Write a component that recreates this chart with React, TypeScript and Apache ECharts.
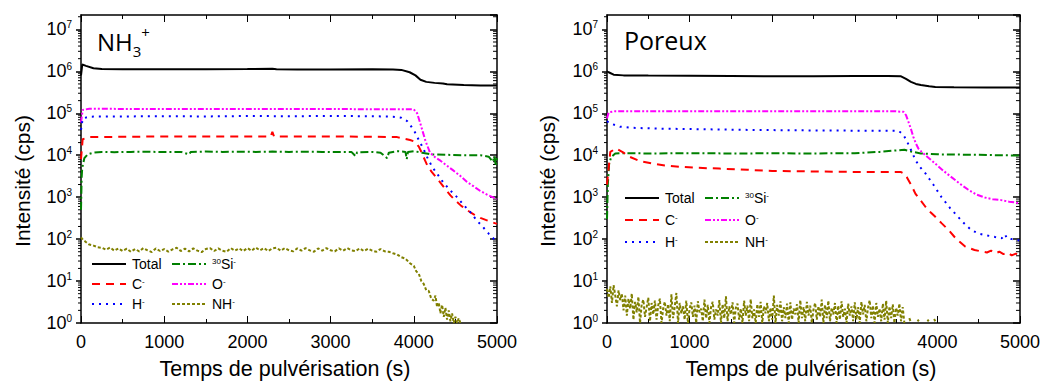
import React, { useEffect, useRef } from "react";
import * as echarts from "echarts";

// ---------- data (time in s, intensity in cps) ----------
const logMinorFactors = [2, 3, 4, 5, 6, 7, 8, 9];
const logDecades = [0, 1, 2, 3, 4, 5, 6, 7];

const leftTotal = [[0, 8e5], [15, 1.45e6], [60, 1.35e6], [150, 1.18e6], [250, 1.13e6], [500, 1.12e6], [1000, 1.12e6], [1500, 1.12e6], [2000, 1.13e6], [2300, 1.15e6], [2350, 1.12e6], [2600, 1.11e6], [3000, 1.11e6], [3500, 1.12e6], [3750, 1.11e6], [3850, 1.08e6], [3950, 9.5e5], [4020, 8.0e5], [4080, 6.3e5], [4150, 5.6e5], [4250, 5.3e5], [4350, 5.1e5], [4400, 4.9e5], [4600, 4.7e5], [4800, 4.6e5], [5000, 4.6e5]];
const leftO = [[0, 6e4], [20, 1.2e5], [100, 1.28e5], [500, 1.27e5], [1000, 1.26e5], [1500, 1.27e5], [2000, 1.26e5], [2500, 1.27e5], [3000, 1.26e5], [3500, 1.25e5], [3800, 1.25e5], [4000, 1.24e5], [4040, 1.0e5], [4075, 6e4], [4110, 3.5e4], [4140, 2.2e4], [4195, 1.15e4], [4260, 8.8e3], [4320, 7.4e3], [4400, 5.6e3], [4470, 4.4e3], [4560, 3.2e3], [4640, 2.3e3], [4720, 1.8e3], [4800, 1.4e3], [4900, 1.1e3], [5000, 9e2]];
const leftH = [[0, 4e4], [20, 7.5e4], [100, 8.3e4], [500, 8.4e4], [1000, 8.5e4], [1500, 8.4e4], [2000, 8.6e4], [2500, 8.5e4], [3000, 8.6e4], [3500, 8.5e4], [3750, 8.3e4], [3850, 7.8e4], [3920, 6.5e4], [3970, 4.8e4], [4015, 3.5e4], [4060, 2.3e4], [4110, 1.5e4], [4160, 9e3], [4220, 5.3e3], [4290, 3.4e3], [4350, 2.3e3], [4430, 1.5e3], [4520, 1.0e3], [4600, 6.5e2], [4675, 4.5e2], [4750, 2.9e2], [4830, 1.95e2], [4900, 1.35e2], [4975, 95], [5000, 85]];
const leftC = [[0, 8e3], [20, 2.4e4], [100, 2.7e4], [500, 2.75e4], [1000, 2.8e4], [1500, 2.8e4], [2000, 2.8e4], [2280, 2.8e4], [2300, 3.6e4], [2320, 2.8e4], [2600, 2.8e4], [3000, 2.8e4], [3500, 2.75e4], [3800, 2.7e4], [3870, 2.5e4], [3955, 2.3e4], [4015, 2.1e4], [4060, 1.6e4], [4100, 1.1e4], [4135, 7.5e3], [4170, 5.3e3], [4220, 3.9e3], [4280, 2.8e3], [4375, 1.6e3], [4440, 1.1e3], [4495, 8.5e2], [4570, 6.2e2], [4640, 4.9e2], [4720, 3.9e2], [4800, 3.2e2], [4900, 2.7e2], [5000, 2.3e2]];
const leftSi = [[0, 5e2], [8, 3e3], [15, 5e3], [40, 8.5e3], [80, 1.05e4], [150, 1.15e4], [250, 1.2e4], [400, 1.18e4], [600, 1.2e4], [800, 1.21e4], [1000, 1.19e4], [1200, 1.2e4], [1300, 1.05e4], [1320, 1.2e4], [1500, 1.22e4], [1700, 1.2e4], [1900, 1.21e4], [2100, 1.2e4], [2300, 1.22e4], [2500, 1.2e4], [2700, 1.21e4], [2900, 1.2e4], [3100, 1.19e4], [3250, 1.2e4], [3300, 9.5e3], [3320, 1.18e4], [3500, 1.2e4], [3600, 1.15e4], [3680, 8.5e3], [3700, 1.15e4], [3800, 1.25e4], [3900, 1.2e4], [3915, 8e3], [3930, 1.2e4], [4000, 1.25e4], [4100, 1.15e4], [4200, 1.05e4], [4400, 1.02e4], [4600, 1.0e4], [4800, 1.0e4], [4900, 9.2e3], [4950, 7e3], [4970, 9.5e3], [4985, 5.5e3], [5000, 8.5e3]];
const leftNH = [[0, 110], [25, 95], [50, 88], [75, 80], [100, 74], [150, 70], [200, 64], [250, 62], [300, 56], [350, 63], [400, 53], [450, 60], [500, 52], [550, 59], [600, 50], [650, 58], [700, 51], [750, 61], [800, 54], [850, 49], [900, 60], [950, 52], [1000, 58], [1050, 50], [1100, 57], [1150, 62], [1200, 52], [1250, 59], [1300, 51], [1350, 60], [1400, 53], [1450, 49], [1500, 58], [1550, 61], [1600, 52], [1650, 60], [1700, 53], [1750, 50], [1800, 61], [1850, 53], [1900, 60], [1950, 52], [2000, 61], [2050, 53], [2100, 63], [2150, 54], [2200, 61], [2250, 52], [2300, 60], [2350, 62], [2400, 53], [2450, 61], [2500, 54], [2550, 51], [2600, 60], [2650, 53], [2700, 61], [2750, 54], [2800, 50], [2850, 60], [2900, 53], [2950, 61], [3000, 54], [3050, 51], [3100, 60], [3150, 53], [3200, 61], [3250, 54], [3300, 52], [3350, 60], [3400, 52], [3450, 59], [3500, 53], [3550, 50], [3600, 58], [3650, 51], [3700, 50], [3750, 46], [3800, 43], [3850, 37], [3900, 34], [3950, 27], [4000, 23], [4030, 17], [4060, 15], [4090, 10], [4120, 8.5], [4150, 6], [4180, 5.8], [4210, 3.8], [4240, 3.4], [4260, 4.5], [4280, 2.4], [4300, 3.1], [4320, 1.7], [4340, 2.7], [4360, 1.4], [4380, 2.3], [4400, 1.2], [4420, 2.0], [4440, 1.1], [4460, 1.7], [4480, 1.0], [4500, 1.4], [4520, 1.0], [4540, 1.3], [4560, 1.0]];

const rightTotal = [[0, 1.0e6], [20, 9.5e5], [80, 8.3e5], [200, 8.0e5], [500, 7.9e5], [1000, 7.8e5], [1500, 7.7e5], [2000, 7.6e5], [2500, 7.6e5], [3000, 7.7e5], [3400, 7.7e5], [3560, 7.6e5], [3620, 6.6e5], [3680, 5.6e5], [3740, 5.0e5], [3800, 4.7e5], [3900, 4.4e5], [3975, 4.25e5], [4200, 4.15e5], [4600, 4.1e5], [5000, 4.1e5]];
const rightO = [[0, 7.5e4], [20, 1.05e5], [100, 1.12e5], [500, 1.12e5], [1000, 1.11e5], [1500, 1.12e5], [2000, 1.11e5], [2500, 1.12e5], [3000, 1.11e5], [3500, 1.11e5], [3590, 1.08e5], [3620, 9e4], [3650, 6.2e4], [3680, 4.2e4], [3710, 2.7e4], [3740, 1.9e4], [3770, 1.44e4], [3810, 1.2e4], [3855, 1.0e4], [3920, 7.8e3], [3975, 6.3e3], [4070, 4.3e3], [4170, 3.0e3], [4270, 2.1e3], [4375, 1.5e3], [4475, 1.15e3], [4575, 9.8e2], [4670, 8.9e2], [4770, 8.5e2], [4870, 7.8e2], [4975, 7.3e2], [5000, 7.2e2]];
const rightH = [[0, 6.5e4], [30, 5.8e4], [155, 4.8e4], [300, 4.5e4], [640, 4.3e4], [1000, 4.2e4], [1760, 4.0e4], [2500, 3.9e4], [3000, 3.85e4], [3530, 3.8e4], [3580, 3.2e4], [3615, 2.5e4], [3650, 1.8e4], [3700, 1.1e4], [3735, 7.6e3], [3790, 5.2e3], [3855, 3.7e3], [3950, 2.0e3], [4050, 1.0e3], [4150, 5.6e2], [4250, 3.4e2], [4330, 2.3e2], [4410, 1.65e2], [4500, 1.35e2], [4575, 1.25e2], [4700, 1.12e2], [4780, 1.05e2], [4820, 1.3e2], [4840, 1.05e2], [4900, 1.0e2], [4975, 95], [5000, 90]];
const rightC = [[0, 2e3], [40, 1.2e4], [110, 1.45e4], [200, 1.15e4], [277, 9.1e3], [400, 7.2e3], [555, 6.3e3], [700, 5.7e3], [880, 5.3e3], [1100, 5.0e3], [1360, 4.8e3], [1700, 4.5e3], [2000, 4.2e3], [2500, 4.1e3], [3000, 4.0e3], [3555, 4.0e3], [3600, 3.6e3], [3630, 3.0e3], [3680, 2.0e3], [3735, 1.2e3], [3800, 8.2e2], [3855, 5.9e2], [3920, 4.3e2], [3975, 3.4e2], [4050, 2.4e2], [4135, 1.65e2], [4230, 1.0e2], [4340, 66], [4450, 55], [4550, 50], [4600, 48], [4650, 53], [4700, 46], [4750, 50], [4800, 44], [4850, 48], [4900, 41], [4950, 45], [5000, 40]];
const rightSi = [[0, 3e2], [10, 2e3], [25, 6e3], [50, 9e3], [100, 1.1e4], [200, 1.12e4], [500, 1.1e4], [1000, 1.12e4], [1500, 1.1e4], [2000, 1.11e4], [2500, 1.1e4], [3000, 1.12e4], [3300, 1.2e4], [3500, 1.3e4], [3600, 1.35e4], [3700, 1.2e4], [3800, 1.1e4], [4000, 1.05e4], [4500, 1.02e4], [5000, 9.8e3]];
// NH- in the porous sample: one reading every 20 s from 0 to 3600 s
const rightNHStep = 20;
const rightNHValues = [
  6.5, 4, 7.5, 3, 8, 4.5, 2.5, 6, 3.5, 5, 2,
  4.5, 1.5, 3.8, 2.2, 5, 1.2, 3.2, 1.8, 4.2, 1, 2.8, 3.6, 1.4, 2.4, 4, 1.1, 3, 1.6, 3.4, 1.2,
  2.6, 3.8, 1, 2.2, 3.2, 1.5, 2.8, 1.1, 4.8, 1.3, 2.4, 5.2, 1, 3, 1.7, 2.5, 1.2, 3.4, 1, 2.2,
  3.1, 1.4, 2.6, 1, 3.3, 1.8, 2.2, 1.1, 3.6, 1.3, 2.7, 1, 2.4, 3.2, 1.2, 2.1, 1.5, 3.5, 1, 2.8,
  1.3, 4.3, 1.1, 2.5, 1.6, 3.1, 1, 2.3, 2.9, 1.2, 2.2, 1, 3.4, 1.5, 2.6, 1.1, 3.7, 1.3, 2.1, 1,
  2.8, 1.4, 3.2, 1, 2.5, 1.7, 3, 1.1, 2.3, 1.2, 4.5, 1, 2.7, 1.5, 3.3, 1.1, 2.4, 1.3, 2.9, 1,
  3.1, 1.2, 2.2, 1.6, 2.8, 1, 3.5, 1.3, 2.4, 1.1, 3.2, 1.5, 2.6, 1, 2.1, 3, 1.2, 2.5, 1.4, 3.6,
  1, 2.7, 1.3, 3.4, 1.1, 2.3, 1.6, 3, 1, 2.6, 1.2, 3.3, 1.4, 2.2, 1, 2.9, 1.5, 2.5, 1.1, 3.1,
  1.2, 2.4, 1, 3.2, 1.6, 2.7, 1.1, 2.3, 3.5, 1.3, 2.6, 1, 3, 1.4, 2.2, 1.1, 2.9, 1.2, 3.4, 1,
  2.5, 1.3, 2.8, 1, 2.3, 1.5, 2.9, 1.1, 2.4, 1,
];
// scattered residual NH- counts after the plateau
const rightNHTail = [[3640, null], [3660, 1.3], [3675, 1.1], [3690, null], [3760, 1.2], [3775, 1.1], [3790, null], [3880, 1.2], [3895, 1.1], [3910, null], [3960, 1.25], [3975, 1.1]];

const seriesNames = ["Total", "Si", "C", "O", "H", "NH"];
const legendCol1 = ["Total", "C", "H"];
const legendCol2 = ["Si", "O", "NH"];
const xTitle = "Temps de pulvérisation (s)";
const yTitle = "Intensité (cps)";

const Y_MAX = 2.2e7;
const FONT = "Liberation Sans";

const styleFor: Record<string, { color: string; type: any; width: number }> = {
  Total: { color: "#000000", type: "solid", width: 2 },
  C: { color: "#FF0000", type: [8, 6], width: 2 },
  H: { color: "#0000FF", type: [2, 5], width: 2 },
  Si: { color: "#008000", type: [8, 3, 2, 3], width: 2 },
  O: { color: "#FF00FF", type: [6, 2, 2, 2, 2, 2], width: 2 },
  NH: { color: "#808000", type: [3, 2], width: 2 },
};

const legendLabel: Record<string, string> = {
  Total: "{t|Total}",
  C: "{t|C}{s|-}",
  H: "{t|H}{s|-}",
  Si: "{s|30}{t|Si}{s|-}",
  O: "{t|O}{s|-}",
  NH: "{t|NH}{s|-}",
};

function lineSeries(name: string, data: any[], axisIdx: number) {
  const st = styleFor[name];
  return {
    type: "line",
    name,
    data,
    xAxisIndex: axisIdx * 2,
    yAxisIndex: axisIdx * 2,
    symbol: "none",
    showSymbol: false,
    clip: true,
    connectNulls: false,
    lineStyle: { color: st.color, type: st.type, width: st.width },
    itemStyle: { color: st.color },
    z: name === "Total" ? 3 : 2,
  };
}

export default function App() {
  const ref = useRef<HTMLDivElement>(null);
  useEffect(() => {
    if (!ref.current) return;
    const chart = echarts.init(ref.current, null, { renderer: "svg" });

    const minorValues: number[][] = [];
    logDecades.forEach((d) =>
      logMinorFactors.forEach((f) => {
        const v = f * Math.pow(10, d);
        if (v < Y_MAX) minorValues.push([0, v]);
      })
    );

    const rightNH: any[] = rightNHValues.map((v, i) => [i * rightNHStep, v]).concat(rightNHTail);

    const grids = [
      { left: 81, top: 15, width: 416, height: 308 },
      { left: 607, top: 15, width: 416, height: 308 },
    ];

    const xAxes: any[] = [];
    const yAxes: any[] = [];
    [0, 1].forEach((g) => {
      xAxes.push({
        type: "value", gridIndex: g, min: 0, max: 5000, interval: 1000, position: "bottom",
        axisLine: { show: true, onZero: false, lineStyle: { color: "#000", width: 1.5 } },
        axisTick: { show: true, inside: true, length: 7, lineStyle: { color: "#000", width: 1 } },
        minorTick: { show: true, splitNumber: 2, length: 4, lineStyle: { color: "#000", width: 1 } },
        splitLine: { show: false },
        axisLabel: { color: "#000", fontSize: 18, fontFamily: FONT, margin: 10, formatter: (v: number) => String(v) },
      });
      xAxes.push({
        type: "value", gridIndex: g, min: 0, max: 5000, interval: 1000, position: "top",
        axisLine: { show: true, onZero: false, lineStyle: { color: "#000", width: 1.5 } },
        axisTick: { show: true, inside: true, length: 7, lineStyle: { color: "#000", width: 1 } },
        minorTick: { show: true, splitNumber: 2, length: 4, lineStyle: { color: "#000", width: 1 } },
        splitLine: { show: false },
        axisLabel: { show: false },
      });
      yAxes.push({
        type: "log", logBase: 10, gridIndex: g, min: 1, max: Y_MAX, position: "left",
        axisLine: { show: true, onZero: false, lineStyle: { color: "#000", width: 1.5 } },
        axisTick: { show: true, inside: false, length: 5, lineStyle: { color: "#000", width: 1.5 } },
        splitLine: { show: false },
        axisLabel: {
          margin: 9, showMaxLabel: false,
          formatter: (v: number) => {
            const e = Math.log10(v);
            const r = Math.round(e);
            if (Math.abs(e - r) > 1e-6) return "";
            return `{b|10}{e|${r}}`;
          },
          rich: {
            b: { fontSize: 18, fontFamily: FONT, color: "#000", lineHeight: 20 },
            e: { fontSize: 10, fontFamily: FONT, color: "#000", lineHeight: 10, verticalAlign: "top" },
          },
        },
      });
      yAxes.push({
        type: "log", logBase: 10, gridIndex: g, min: 1, max: Y_MAX, position: "right",
        axisLine: { show: true, onZero: false, lineStyle: { color: "#000", width: 1.5 } },
        axisTick: { show: true, inside: true, length: 7, lineStyle: { color: "#000", width: 1.5 } },
        splitLine: { show: false },
        axisLabel: { show: false },
      });
    });

    const minorTickSeries = (g: number) => ({
      type: "custom",
      xAxisIndex: g * 2,
      yAxisIndex: g * 2,
      silent: true,
      data: minorValues,
      renderItem: (params: any, api: any) => {
        const v = api.value(1);
        const l = api.coord([0, v]);
        const r = api.coord([5000, v]);
        return {
          type: "group",
          children: [
            { type: "line", shape: { x1: l[0] - 3, y1: l[1], x2: l[0], y2: l[1] }, style: { stroke: "#000", lineWidth: 1 } },
            { type: "line", shape: { x1: r[0] - 4, y1: r[1], x2: r[0], y2: r[1] }, style: { stroke: "#000", lineWidth: 1 } },
          ],
        };
      },
    });

    const leftData: Record<string, any[]> = { Total: leftTotal, Si: leftSi, C: leftC, O: leftO, H: leftH, NH: leftNH };
    const rightData: Record<string, any[]> = { Total: rightTotal, Si: rightSi, C: rightC, O: rightO, H: rightH, NH: rightNH };

    const series: any[] = [];
    seriesNames.forEach((n) => series.push(lineSeries(n, leftData[n], 0)));
    seriesNames.forEach((n) => series.push(lineSeries(n, rightData[n], 1)));
    series.push(minorTickSeries(0), minorTickSeries(1));

    const legendRich = {
      t: { fontSize: 14, fontFamily: FONT, color: "#000", lineHeight: 14 },
      s: { fontSize: 8, fontFamily: FONT, color: "#000", lineHeight: 8, verticalAlign: "top" },
    };
    const mkLegend = (data: string[], left: number, top: number, gap: number) => ({
      data, left, top, orient: "vertical", itemWidth: 34, itemHeight: 14, itemGap: gap,
      selectedMode: false, padding: 0,
      itemStyle: { opacity: 0 },
      formatter: (n: string) => legendLabel[n],
      textStyle: { rich: legendRich, padding: [0, 0, 0, 1] },
    });

    const xTitleText = (cx: number) => ({
      type: "text", x: cx, y: 369, silent: true,
      style: { text: xTitle, fontSize: 21.5, fontFamily: FONT, fill: "#000", align: "center", verticalAlign: "middle" },
    });
    const yTitleText = (cx: number) => ({
      type: "text", x: cx, y: 181, rotation: Math.PI / 2, silent: true,
      style: { text: yTitle, fontSize: 21, fontFamily: FONT, fill: "#000", align: "center", verticalAlign: "middle" },
    });

    chart.setOption({
      animation: false,
      backgroundColor: "#ffffff",
      grid: grids,
      xAxis: xAxes,
      yAxis: yAxes,
      legend: [
        mkLegend(legendCol1, 91, 257, 6),
        mkLegend(legendCol2, 171, 257, 6),
        mkLegend(legendCol1, 624, 191, 8),
        mkLegend(legendCol2, 704, 191, 8),
      ],
      graphic: [
        xTitleText(285),
        xTitleText(811),
        yTitleText(22),
        yTitleText(547),
        {
          type: "text", left: 97, top: 24,
          style: {
            text: "{a|NH}{b|3}{c|+}",
            rich: {
              a: { fontSize: 24, fontFamily: "Open Sans", fill: "#000", lineHeight: 34 },
              b: { fontSize: 15, fontFamily: "Open Sans", fill: "#000", lineHeight: 15, verticalAlign: "bottom" },
              c: { fontSize: 15, fontFamily: "Open Sans", fill: "#000", lineHeight: 15, verticalAlign: "top" },
            },
          },
        },
        {
          type: "text", left: 624, top: 27,
          style: { text: "Poreux", fontSize: 25, fontFamily: "Open Sans", fill: "#000" },
        },
      ],
      series,
    });
    return () => chart.dispose();
  }, []);
  return <div ref={ref} style={{ position: "absolute", left: 0, top: 0, width: 1043, height: 385 }} />;
}
